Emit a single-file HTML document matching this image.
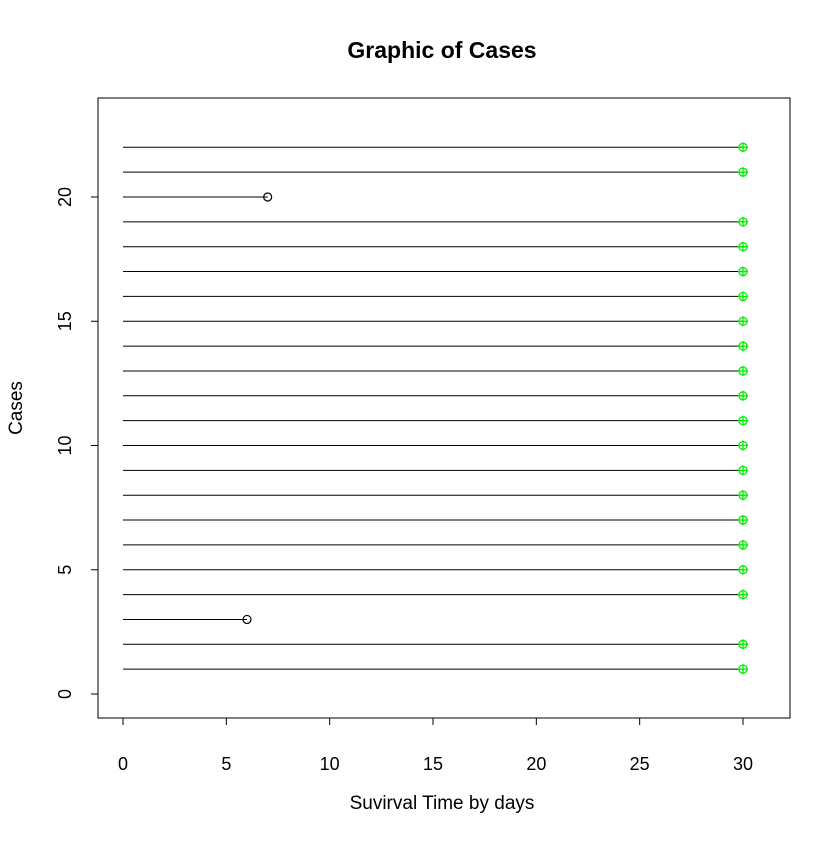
<!DOCTYPE html>
<html><head><meta charset="utf-8"><style>body{margin:0;background:#fff}svg{font-family:"Liberation Sans",Arial,sans-serif}</style></head>
<body>
<svg id="c" width="840" height="840" xmlns="http://www.w3.org/2000/svg">
<rect width="840" height="840" fill="#fff"/>
<text x="442" y="58" font-size="23" font-weight="bold" text-anchor="middle">Graphic of Cases</text>
<rect x="98" y="98" width="692" height="620" fill="none" stroke="#000"/>
<text x="442" y="809" font-size="19" text-anchor="middle">Suvirval Time by days</text>
<text transform="translate(22,408) rotate(-90)" font-size="19" text-anchor="middle">Cases</text>
<g id="ax"></g><g id="marks"></g>
</svg>
<script>
const cases=[1,2,3,4,5,6,7,8,9,10,11,12,13,14,15,16,17,18,19,20,21,22];
const times=[30,30,6,30,30,30,30,30,30,30,30,30,30,30,30,30,30,30,30,7,30,30];
const censored=[1,1,0,1,1,1,1,1,1,1,1,1,1,1,1,1,1,1,1,0,1,1];
const xTicks=[0,5,10,15,20,25,30];
const yTicks=[0,5,10,15,20];
const NS="http://www.w3.org/2000/svg";
const X=v=>123+v*(620/30);
const Y=v=>694-v*(497/20);
function mk(t,a,p){const e=document.createElementNS(NS,t);for(const k in a)e.setAttribute(k,a[k]);p.appendChild(e);return e;}
const ax=document.getElementById('ax'),m=document.getElementById('marks');
mk('line',{x1:X(0),x2:X(30),y1:718,y2:718,stroke:'#000'},ax);
mk('line',{x1:98,x2:98,y1:Y(0),y2:Y(20),stroke:'#000'},ax);
xTicks.forEach(v=>{
 const l=mk('line',{x1:X(v),x2:X(v),y1:718,y2:725,stroke:'#000'},ax);
 
 const t=mk('text',{x:X(v),y:770,'font-size':18,'text-anchor':'middle'},ax);t.textContent=v;
 
 
});
yTicks.forEach(v=>{
 const l=mk('line',{x1:91,x2:98,y1:Y(v),y2:Y(v),stroke:'#000'},ax);
 
 const t=mk('text',{transform:`translate(71,${Y(v)}) rotate(-90)`,'font-size':18,'text-anchor':'middle'},ax);t.textContent=v;
 
 
});
cases.forEach((c,i)=>{
 const y=Y(c),x=X(times[i]);
 const l=mk('line',{x1:X(0),x2:x,y1:y,y2:y,stroke:'#000','stroke-width':1},m);
 
 
 if(censored[i]){
  const g=mk('g',{stroke:'#00ee00','stroke-width':1.3,fill:'none'},m);
  
  
  mk('circle',{cx:x,cy:y,r:4},g);
  mk('line',{x1:x-5,x2:x+5,y1:y,y2:y},g);
  mk('line',{x1:x,x2:x,y1:y-5,y2:y+5},g);
 } else {
  const ci=mk('circle',{cx:x,cy:y,r:4,stroke:'#000',fill:'none','stroke-width':1.2},m);
  
  
 }
});
</script>
</body></html>
